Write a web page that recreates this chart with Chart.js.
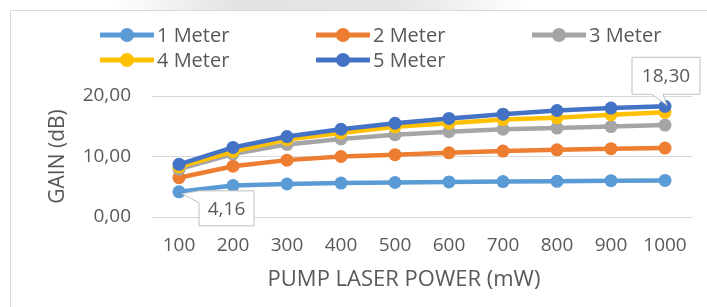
<!DOCTYPE html>
<html>
<head>
<meta charset="utf-8">
<script src="https://cdn.jsdelivr.net/npm/chart.js@4.4.0/dist/chart.umd.min.js"></script>
<style>
html, body { margin: 0; padding: 0; background: #fff; }
#wrap { position: relative; width: 707px; height: 307px; overflow: hidden; }
#frame { position: absolute; left: 10px; top: 10px; width: 740px; height: 340px; border: 1px solid #d9d9d9; box-sizing: border-box; }
#shade { position: absolute; left: 110px; top: 0; width: 420px; height: 10px;
  background: linear-gradient(to right, rgba(228,228,228,0), #e3e3e3 30%, #e6e6e6 70%, rgba(228,228,228,0)); }
#legend { position: absolute; left: 100px; top: 22px; display: grid; grid-template-columns: repeat(3, 216px);
  grid-auto-rows: 25px; font-family: 'Open Sans'; font-size: 20px; color: #595959; }
#legend .item { display: flex; align-items: center; white-space: nowrap; }
#legend svg { margin-right: 3px; }
#box { position: absolute; left: 0; top: 0; width: 707px; height: 307px; }
</style>
</head>
<body>
<div id="wrap">
  <div id="shade"></div>
  <div id="frame"></div>
  <div id="box"><canvas id="gainChart"></canvas></div>
  <div id="legend"></div>
</div>
<script>
// data
const pumpPower = ['100', '200', '300', '400', '500', '600', '700', '800', '900', '1000'];
const seriesNames = ['1 Meter', '2 Meter', '3 Meter', '4 Meter', '5 Meter'];
const gain1m = [4.16, 5.2, 5.45, 5.6, 5.7, 5.8, 5.85, 5.9, 6.0, 6.05];
const gain2m = [6.5, 8.4, 9.4, 10.0, 10.3, 10.6, 10.9, 11.1, 11.3, 11.4];
const gain3m = [7.9, 10.4, 12.0, 12.9, 13.6, 14.1, 14.5, 14.7, 14.95, 15.2];
const gain4m = [8.3, 10.8, 12.8, 13.9, 14.9, 15.5, 16.1, 16.4, 16.9, 17.3];
const gain5m = [8.7, 11.5, 13.3, 14.5, 15.5, 16.3, 17.0, 17.6, 18.0, 18.3];
const yTicks = [0, 10, 20];
const xTitle = 'PUMP LASER POWER (mW)';
const yTitle = 'GAIN (dB)';

const colors = ['#5B9BD5', '#ED7D31', '#A5A5A5', '#FFC000', '#4472C4'];
const TEXT = '#595959';

Chart.defaults.font.family = "'Open Sans'";
Chart.defaults.color = TEXT;

function fmt(v) {
    return Number(v).toFixed(2).replace('.', ',');
}

// legend built as html, so it can sit in a grid like the original
const htmlLegend = {
    id: 'htmlLegend',
    afterUpdate(chart) {
        const el = document.getElementById('legend');
        el.innerHTML = '';
        const items = chart.options.plugins.legend.labels.generateLabels(chart);
        items.sort((a, b) => a.datasetIndex - b.datasetIndex);
        items.forEach(item => {
            const div = document.createElement('div');
            div.className = 'item';
            const c = item.strokeStyle;
            div.innerHTML =
                '<svg width="54" height="16"><line x1="1" y1="8" x2="53" y2="8" stroke="' + c +
                '" stroke-width="5" stroke-linecap="round"/><circle cx="27" cy="8" r="7" fill="' + c + '"/></svg>';
            const span = document.createElement('span');
            span.textContent = item.text;
            div.appendChild(span);
            el.appendChild(div);
        });
    }
};

// x axis title: excel puts it a bit left of the plot centre
const xTitlePlugin = {
    id: 'xTitle',
    afterDraw(chart) {
        const xs = chart.scales.x;
        const ctx = chart.ctx;
        ctx.save();
        ctx.font = "22px 'Open Sans'";
        ctx.fillStyle = TEXT;
        ctx.textAlign = 'center';
        ctx.textBaseline = 'middle';
        ctx.fillText(xTitle, (xs.left + xs.right) / 2 - 18, xs.bottom - 27);
        ctx.restore();
    }
};

// excel style value callouts
const callouts = [
    { dataset: 0, index: 0, side: 'right' },
    { dataset: 4, index: 9, side: 'above' }
];

const calloutPlugin = {
    id: 'callouts',
    afterDatasetsDraw(chart) {
        const ctx = chart.ctx;
        ctx.save();
        ctx.font = "19px 'Open Sans'";
        ctx.textAlign = 'center';
        ctx.textBaseline = 'middle';
        callouts.forEach(c => {
            const pt = chart.getDatasetMeta(c.dataset).data[c.index];
            const label = fmt(chart.data.datasets[c.dataset].data[c.index]);
            const px = pt.x, py = pt.y;
            ctx.beginPath();
            let l, t, r, b;
            if (c.side === 'right') {
                l = px + 20; r = px + 75; t = py - 1; b = py + 34;
                ctx.moveTo(l, t);
                ctx.lineTo(r, t);
                ctx.lineTo(r, b);
                ctx.lineTo(l, b);
                ctx.lineTo(l, t + 12);
                ctx.lineTo(px + 3, py + 2);
                ctx.closePath();
            } else {
                l = px - 33; r = px + 35; t = py - 49; b = py - 12;
                ctx.moveTo(l, t);
                ctx.lineTo(r, t);
                ctx.lineTo(r, b);
                ctx.lineTo(l + 31, b);
                ctx.lineTo(px + 2, py - 1);
                ctx.lineTo(l + 20, b);
                ctx.lineTo(l, b);
                ctx.closePath();
            }
            ctx.fillStyle = '#fff';
            ctx.fill();
            ctx.strokeStyle = '#bfbfbf';
            ctx.lineWidth = 1;
            ctx.stroke();
            ctx.fillStyle = TEXT;
            ctx.fillText(label, (l + r) / 2, (t + b) / 2 + 1);
        });
        ctx.restore();
    }
};

const seriesData = [gain1m, gain2m, gain3m, gain4m, gain5m];

const datasets = seriesData.map((vals, i) => ({
    label: seriesNames[i],
    data: vals,
    borderColor: colors[i],
    backgroundColor: colors[i],
    pointBackgroundColor: colors[i],
    pointBorderColor: colors[i],
    borderWidth: 4.5,
    pointRadius: 6.5,
    pointBorderWidth: 0,
    tension: 0,
    order: seriesData.length - i // last series on top like excel
}));

new Chart(document.getElementById('gainChart'), {
    type: 'line',
    data: { labels: pumpPower, datasets: datasets },
    plugins: [htmlLegend, calloutPlugin, xTitlePlugin],
    options: {
        responsive: true,
        maintainAspectRatio: false,
        animation: false,
        layout: { padding: { left: 38, top: 96, right: 15, bottom: 0 } },
        plugins: {
            legend: { display: false },
            tooltip: { enabled: false }
        },
        scales: {
            x: {
                offset: true,
                grid: { display: false, drawTicks: false },
                border: { display: false },
                ticks: { padding: 17, font: { size: 19 }, color: TEXT },
                title: { display: false },
                afterFit(scale) { scale.height = 90; }
            },
            y: {
                min: 0,
                max: 20,
                afterBuildTicks(scale) { scale.ticks = yTicks.map(v => ({ value: v })); },
                grid: { color: '#d9d9d9', lineWidth: 1, drawTicks: false },
                border: { display: false },
                ticks: { padding: 21, font: { size: 19 }, color: TEXT, callback: v => fmt(v) },
                title: { display: true, text: yTitle, font: { size: 21 }, color: TEXT, padding: { top: 7, bottom: 0 } },
                afterFit(scale) { scale.width = 152 - 38; }
            }
        }
    }
});
</script>
</body>
</html>
